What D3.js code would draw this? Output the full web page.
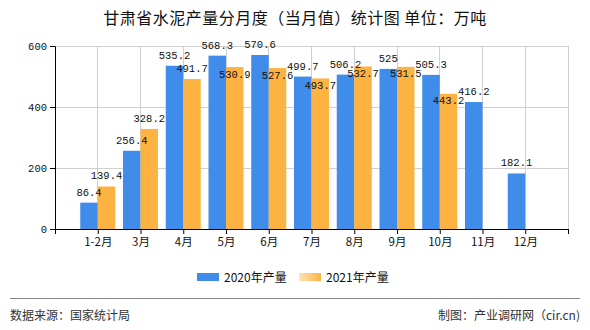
<!DOCTYPE html>
<html><head><meta charset="utf-8">
<script src="https://cdn.jsdelivr.net/npm/d3@7/dist/d3.min.js"></script>
<style>
body{margin:0;background:#fff;}
text{font-family:"Noto Sans CJK SC","Liberation Mono",sans-serif;}
</style></head>
<body><svg id="c" width="590" height="330"></svg>
<script>
const categories = ["1-2月","3月","4月","5月","6月","7月","8月","9月","10月","11月","12月"];
const values2020 = [86.4,256.4,535.2,568.3,570.6,499.7,506.2,525,505.3,416.2,182.1];
const values2021 = [139.4,328.2,491.7,530.9,527.6,493.7,532.7,531.5,443.2,null,null];
const seriesNames = ["2020年产量","2021年产量"];
const yTicks = [0,200,400,600];
const colors = ["#3F8CEB","#FDB341"];

(function(){
const svg = d3.select("#c");
const pL = 55, pR = 568, pT = 46, pB = 229;
const x = d3.scalePoint().domain(["_s", ...categories, "_e"]).range([pL, pR]);
const y = d3.scaleLinear().domain([0, 600]).range([pB, pT]);
const bw = 17.5;

svg.append("text").attr("x", 295).attr("y", 24).attr("text-anchor", "middle")
  .style("font-size", "16px").style("letter-spacing", "0.5px").attr("fill", "#111")
  .text("甘肃省水泥产量分月度（当月值）统计图 单位：万吨");

svg.append("g").selectAll("line").data(yTicks.filter(d => d > 0)).join("line")
  .attr("x1", pL).attr("x2", pR).attr("y1", d => y(d)).attr("y2", d => y(d))
  .attr("stroke", "#d0d0d0").attr("stroke-width", 1).attr("shape-rendering", "crispEdges");
svg.append("g").selectAll("line").data([...categories, "_e"]).join("line")
  .attr("x1", d => x(d)).attr("x2", d => x(d)).attr("y1", pT).attr("y2", pB)
  .attr("stroke", "#d0d0d0").attr("stroke-width", 1).attr("shape-rendering", "crispEdges");

const series = [values2020, values2021];
series.forEach((vals, si) => {
  const data = categories.map((c, i) => ({c, v: vals[i]})).filter(d => d.v != null);
  svg.append("g").selectAll("rect").data(data).join("rect")
    .attr("x", d => si === 0 ? x(d.c) - bw : x(d.c))
    .attr("width", bw)
    .attr("y", d => y(d.v)).attr("height", d => pB - y(d.v))
    .attr("fill", colors[si]);
});

// labels with simple collision avoidance (2021 labels move inside the bar when they collide)
const cw = 6.3, th = 12.5;
const placed = [];
const labels = [];
series.forEach((vals, si) => {
  categories.forEach((c, i) => {
    const v = vals[i];
    if (v == null) return;
    const cx = si === 0 ? x(c) - bw / 2 : x(c) + bw / 2;
    labels.push({si, cx, v, top: y(v), w: String(v).length * cw});
  });
});
const overlaps = (a, b) => !(a.x1 <= b.x0 || b.x1 <= a.x0 || a.y1 <= b.y0 || b.y1 <= a.y0);
labels.forEach(l => {
  let base = l.top - 7;
  let box = {x0: l.cx - l.w / 2, x1: l.cx + l.w / 2, y0: base - th, y1: base};
  if (l.si === 1 && placed.some(p => overlaps(p, box))) {
    base = l.top + 10.5;
    box = {x0: box.x0, x1: box.x1, y0: base - th, y1: base};
  }
  l.base = base;
  placed.push(box);
});
svg.append("g").selectAll("text").data(labels).join("text")
  .attr("x", d => d.cx).attr("y", d => d.base)
  .attr("text-anchor", "middle")
  .style("font-family", "'Liberation Mono',monospace").style("font-size", "10.5px")
  .attr("fill", "#111").text(d => d.v);

const yAxis = d3.axisLeft(y).tickValues(yTicks).tickSize(5).tickPadding(3);
const gy = svg.append("g").attr("transform", `translate(${pL},0)`).call(yAxis);
gy.selectAll("text").style("font-family", "'Liberation Mono',monospace").style("font-size", "10.5px").attr("fill", "#111");
gy.select(".domain").attr("stroke", "#000");
gy.selectAll(".tick line").attr("stroke", "#000");

const xAxis = d3.axisBottom(x).tickSize(5).tickSizeOuter(0).tickPadding(4)
  .tickFormat(d => d.startsWith("_") ? "" : d);
const gx = svg.append("g").attr("transform", `translate(0,${pB})`).call(xAxis);
gx.selectAll("text").style("font-size", "11.5px").attr("fill", "#111");
gx.select(".domain").attr("stroke", "#000");
gx.selectAll(".tick line").attr("stroke", "#000");

const defs = svg.append("defs");
const lg = defs.append("linearGradient").attr("id", "og");
lg.append("stop").attr("offset", "0%").attr("stop-color", "#FEE3B5");
lg.append("stop").attr("offset", "100%").attr("stop-color", "#FDB341");
const legendX = [197, 299];
seriesNames.forEach((n, i) => {
  svg.append("rect").attr("x", legendX[i]).attr("y", 273).attr("width", 22).attr("height", 8)
    .attr("fill", i === 0 ? colors[0] : "url(#og)");
  svg.append("text").attr("x", legendX[i] + 27).attr("y", 282).style("font-size", "12px")
    .attr("fill", "#111").text(n);
});

svg.append("line").attr("x1", 10).attr("x2", 580).attr("y1", 298.5).attr("y2", 298.5)
  .attr("stroke", "#888").attr("stroke-width", 1);
svg.append("text").attr("x", 10).attr("y", 320).style("font-size", "12px").attr("fill", "#333").text("数据来源：国家统计局");
svg.append("text").attr("x", 580).attr("y", 320).attr("text-anchor", "end").style("font-size", "12px").attr("fill", "#333").text("制图：产业调研网（cir.cn)");
})();
</script></body></html>
